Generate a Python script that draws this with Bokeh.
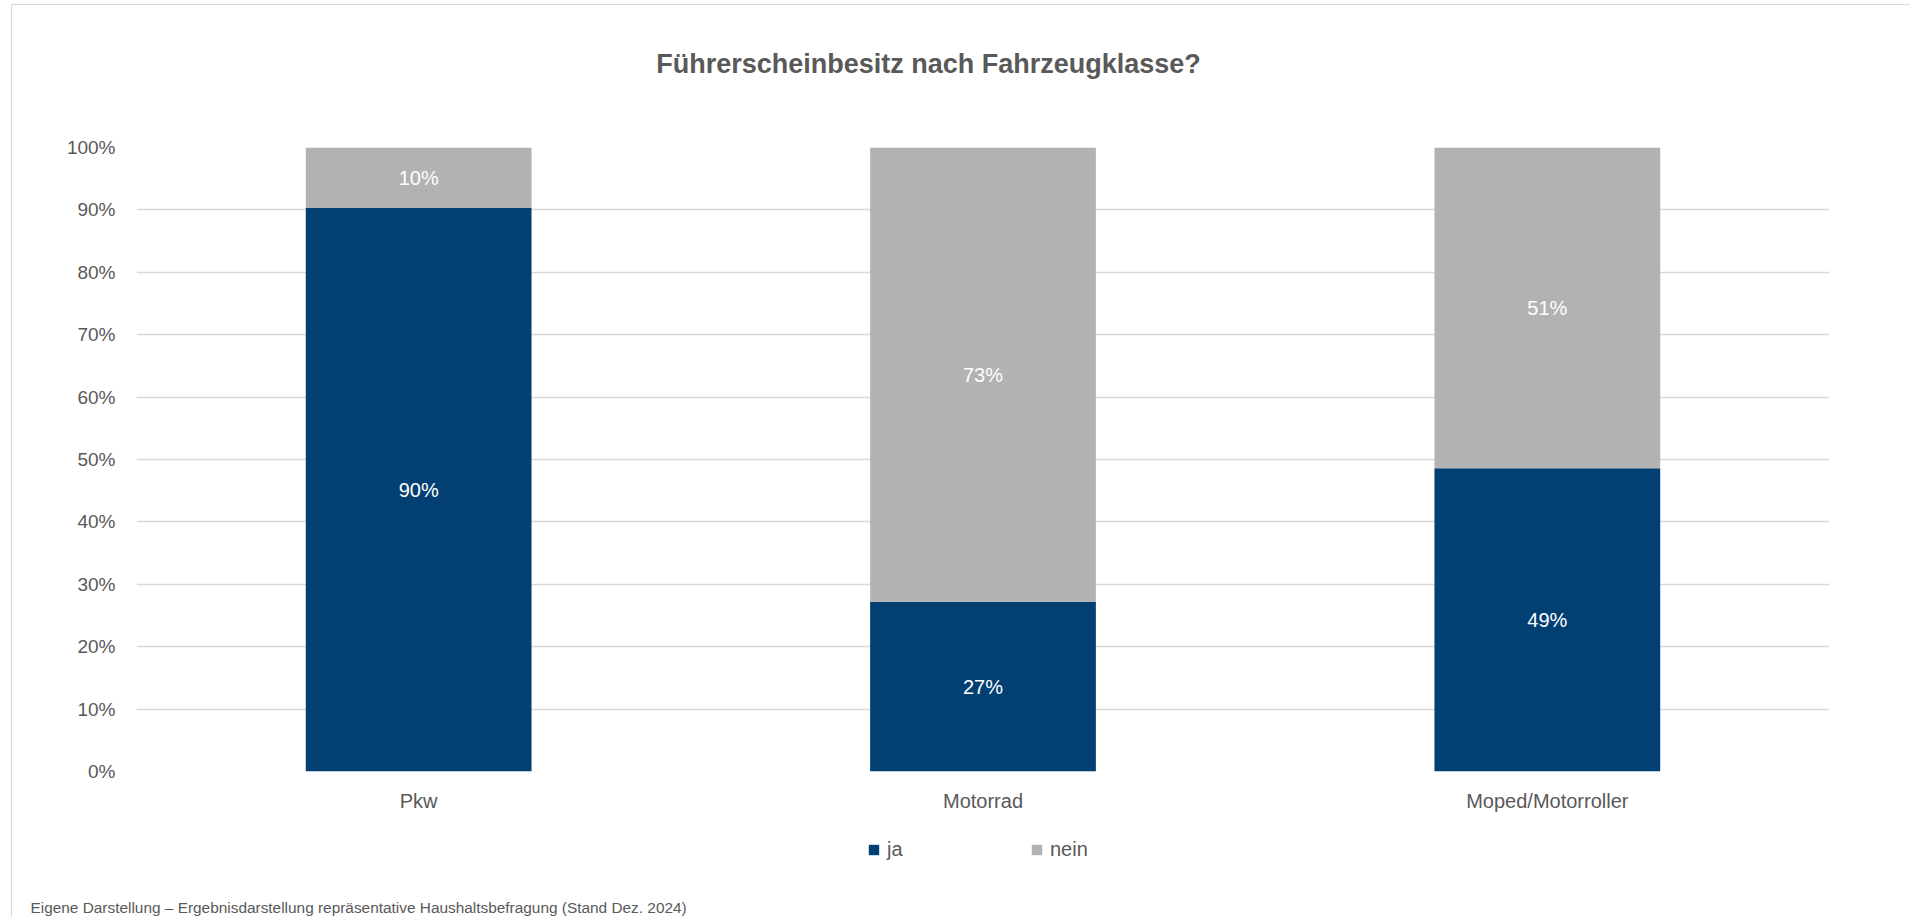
from bokeh.plotting import figure
from bokeh.models import (ColumnDataSource, Range1d, FixedTicker, NumeralTickFormatter,
                          LabelSet, Label, Legend, LegendItem)
from bokeh.core.properties import value
from bokeh.embed import file_html
from bokeh.resources import INLINE

# ---- data ----
categories = ["Pkw", "Motorrad", "Moped/Motorroller"]
ja = [0.903, 0.272, 0.486]
nein = [0.097, 0.728, 0.514]
y_ticks = [0.0, 0.1, 0.2, 0.3, 0.4, 0.5, 0.6, 0.7, 0.8, 0.9, 1.0]
title_text = "Führerscheinbesitz nach Fahrzeugklasse?"
footer_text = "Eigene Darstellung – Ergebnisdarstellung repräsentative Haushaltsbefragung (Stand Dez. 2024)"
series_names = ["ja", "nein"]
colors = ["#023F73", "#B2B2B2"]

TXT = "#595959"
FONT = "Liberation Sans"
W = 1899


def strip(height, styles):
    f = figure(width=W, height=height, output_backend="svg", toolbar_location=None,
               x_range=Range1d(0, W), y_range=Range1d(0, height), title=None,
               min_border_left=0, min_border_right=0, min_border_top=0,
               min_border_bottom=0, styles=styles)
    f.axis.visible = False
    f.grid.visible = False
    f.outline_line_color = None
    f.background_fill_color = "white"
    f.border_fill_color = "white"
    return f


# ---------------- title strip ----------------
H0 = 130
p0 = strip(H0, {"margin-left": "11px", "margin-top": "4px",
                "border-left": "1px solid #D9D9D9", "border-top": "1px solid #D9D9D9"})
p0.add_layout(Label(x=916, y=71.5, text=title_text, text_align="center",
                    text_baseline="middle", text_font=FONT, text_font_style="bold",
                    text_font_size="27px", text_color=TXT))

# ---------------- main chart ----------------
xs = list(range(len(categories)))
src = ColumnDataSource(dict(x=xs, ja=ja, nein=nein))

p = figure(width=W, height=685, output_backend="svg", toolbar_location=None,
           title=None,
           x_range=Range1d(-0.5, len(categories) - 0.5), y_range=Range1d(0, 1),
           min_border_left=124, min_border_right=82, min_border_top=13,
           min_border_bottom=48,
           styles={"margin-left": "11px", "border-left": "1px solid #D9D9D9"})
p.outline_line_color = None
p.background_fill_color = "white"
p.border_fill_color = "white"

rs = p.vbar_stack(series_names, x="x", width=0.4, color=colors, source=src,
                  line_color=None)

p.xaxis.ticker = FixedTicker(ticks=xs)
p.xaxis.major_label_overrides = {i: c for i, c in zip(xs, categories)}
p.xaxis.axis_line_color = None
p.xaxis.major_tick_line_color = None
p.xaxis.major_tick_out = 0
p.xaxis.major_tick_in = 0
p.xaxis.minor_tick_line_color = None
p.xaxis.major_label_text_font = FONT
p.xaxis.major_label_text_font_size = "20px"
p.xaxis.major_label_text_color = TXT
p.xaxis.major_label_standoff = 18

p.yaxis.ticker = FixedTicker(ticks=y_ticks)
p.yaxis.formatter = NumeralTickFormatter(format="0%")
p.yaxis.axis_line_color = None
p.yaxis.major_tick_line_color = None
p.yaxis.major_tick_out = 0
p.yaxis.major_tick_in = 0
p.yaxis.minor_tick_line_color = None
p.yaxis.major_label_text_font = FONT
p.yaxis.major_label_text_font_size = "19px"
p.yaxis.major_label_text_color = TXT
p.yaxis.major_label_standoff = 21

p.xgrid.grid_line_color = None
p.ygrid.grid_line_color = "#D9D9D9"
p.ygrid.grid_line_width = 1.5
p.ygrid.level = "underlay"

lab_x = xs + xs
lab_y = [v / 2 for v in ja] + [a + b / 2 for a, b in zip(ja, nein)]
lab_t = [f"{round(v * 100)}%" for v in ja] + [f"{round(v * 100)}%" for v in nein]
lsrc = ColumnDataSource(dict(x=lab_x, y=lab_y, t=lab_t))
p.add_layout(LabelSet(x="x", y="y", text="t", source=lsrc, text_align="center",
                      text_baseline="middle", text_color="white",
                      text_font=value(FONT), text_font_size="20px"))

# ---------------- legend + footer strip ----------------
H2 = 98
p2 = strip(H2, {"margin-left": "11px", "border-left": "1px solid #D9D9D9"})

# hidden copies of the stacked bars, only used to draw the legend swatches
rs2 = p2.vbar_stack(series_names, x="x", width=0.4, color=colors, source=src,
                    line_color=None)
for r in rs2:
    r.visible = False

legend = Legend(items=[LegendItem(label=n, renderers=[r]) for n, r in zip(series_names, rs2)],
                orientation="horizontal", location=(855, 56),
                glyph_width=13, glyph_height=13, label_standoff=7, spacing=123,
                padding=0, margin=0, border_line_color=None, background_fill_alpha=0,
                inactive_fill_alpha=0,
                label_text_font=FONT, label_text_font_size="20px", label_text_color=TXT)
p2.add_layout(legend, "center")

p2.add_layout(Label(x=18, y=10, text=footer_text, text_align="left",
                    text_baseline="middle", text_font=FONT,
                    text_font_size="15.4px", text_color=TXT))

open("out.html", "w").write(file_html([p0, p, p2], INLINE))
